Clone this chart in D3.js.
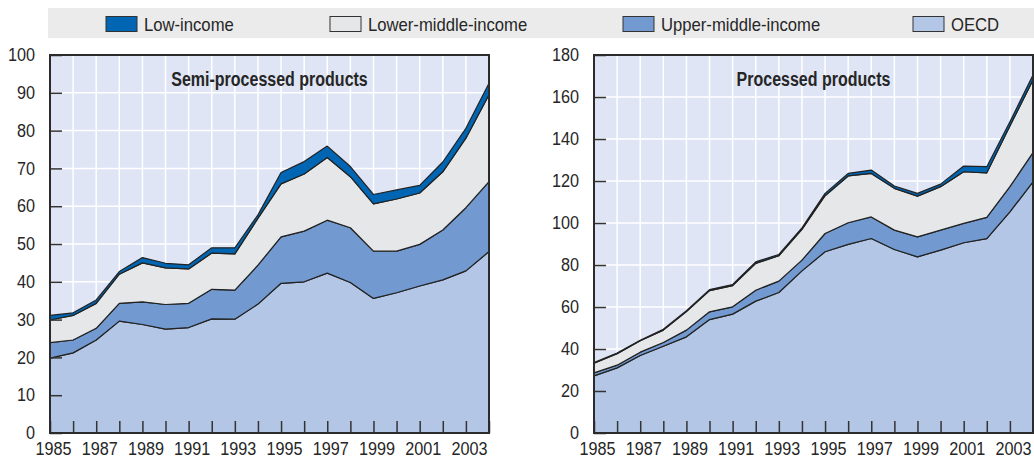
<!DOCTYPE html>
<html>
<head>
<meta charset="utf-8">
<script src="https://cdn.jsdelivr.net/npm/d3@7"></script>
<style>
  body { margin: 0; background: #fff; }
  svg text { font-family: "Liberation Sans", Arial, sans-serif; fill: #262626; }
</style>
</head>
<body>
<div id="chart"></div>
<script>
// data
const years = d3.range(1985, 2005);
const seriesKeys = ["OECD", "Upper-middle-income", "Lower-middle-income", "Low-income"];
const legendKeys = ["Low-income", "Lower-middle-income", "Upper-middle-income", "OECD"];

// semi-processed products
const semiOECD  = [19.8, 21.2, 24.6, 29.6, 28.7, 27.5, 27.9, 30.2, 30.1, 34.1, 39.6, 40.0, 42.3, 39.8, 35.6, 37.1, 38.9, 40.5, 42.9, 48.0];
const semiUpper = [4.1, 3.4, 3.1, 4.7, 6.0, 6.5, 6.4, 7.8, 7.7, 10.3, 12.3, 13.4, 14.0, 14.5, 12.5, 11.0, 11.0, 13.2, 16.7, 18.5];
const semiLower = [6.0, 6.5, 6.6, 7.7, 10.3, 9.7, 9.1, 9.6, 9.6, 12.4, 14.0, 15.1, 16.6, 13.5, 12.5, 13.8, 13.6, 15.4, 18.4, 23.0];
const semiLow   = [1.2, 0.7, 0.9, 0.7, 1.4, 1.2, 1.1, 1.4, 1.6, 0.9, 3.0, 3.3, 3.0, 2.7, 2.5, 2.4, 2.0, 2.6, 2.6, 3.0];

// processed products
const procOECD  = [27.2, 31.0, 36.9, 41.3, 45.8, 54.0, 56.6, 62.8, 66.9, 77.2, 86.3, 89.8, 92.6, 87.4, 83.9, 87.1, 90.6, 92.6, 105.3, 119.6];
const procUpper = [1.4, 1.3, 1.6, 1.8, 3.2, 3.7, 3.5, 5.2, 5.4, 5.1, 8.7, 10.3, 10.3, 9.2, 9.5, 9.5, 9.2, 10.1, 12.0, 13.9];
const procLower = [4.6, 5.5, 5.4, 5.9, 8.8, 10.1, 10.1, 12.8, 12.1, 14.7, 18.0, 22.3, 20.7, 19.9, 19.4, 20.7, 24.6, 21.2, 28.9, 34.6];
const procLow   = [0.3, 0.3, 0.3, 0.4, 0.4, 0.5, 0.5, 0.7, 0.6, 0.7, 1.1, 1.2, 1.6, 1.1, 1.3, 1.2, 2.7, 2.9, 2.0, 2.4];

const semiTicks = d3.range(0, 101, 10);
const procTicks = d3.range(0, 181, 20);

// formatting constants
const width = 1034;
const height = 460;
const labelSize = 18;
const colors = d3.scaleOrdinal()
    .domain(seriesKeys)
    .range(["#b3c6e6", "#7299d0", "#e6e7e9", "#0066b3"]);

const svg = d3.select("#chart")
    .append("svg")
        .attr("width", width)
        .attr("height", height);

// legend band
svg.append("rect")
    .attr("x", 48).attr("y", 8)
    .attr("width", width - 48).attr("height", 30)
    .attr("fill", "#ebebeb");

const legendX = [106, 330, 623, 913];
legendKeys.forEach((key, i) => {
    svg.append("rect")
        .attr("x", legendX[i]).attr("y", 16.5)
        .attr("width", 31).attr("height", 15)
        .attr("fill", colors(key))
        .attr("stroke", "#333")
        .attr("stroke-width", 1);
    svg.append("text")
        .attr("class", "narrow")
        .attr("x", legendX[i] + 38).attr("y", 30.5)
        .attr("font-size", 18.5)
        .text(key);
});

drawPanel({
    left: 50, right: 489, top: 55, bottom: 433,
    yMax: 100, ticks: semiTicks,
    title: "Semi-processed products",
    values: [semiOECD, semiUpper, semiLower, semiLow]
});

drawPanel({
    left: 594, right: 1033, top: 55, bottom: 433,
    yMax: 180, ticks: procTicks,
    title: "Processed products",
    values: [procOECD, procUpper, procLower, procLow]
});

// squeeze texts to look like a condensed face
condense(svg.selectAll("text.narrow"), 0.9);
condense(svg.selectAll("text.title"), 0.8);

/** HELPER FUNCTIONS */

function drawPanel(opt) {
    const rows = years.map((yr, i) => {
        const row = {year: yr};
        seriesKeys.forEach((k, j) => row[k] = opt.values[j][i]);
        return row;
    });

    const x = d3.scaleLinear()
        .domain([years[0], years[years.length - 1]])
        .range([opt.left, opt.right]);

    const y = d3.scaleLinear()
        .domain([0, opt.yMax])
        .range([opt.bottom, opt.top]);

    const g = svg.append("g");

    // background
    g.append("rect")
        .attr("x", opt.left).attr("y", opt.top)
        .attr("width", opt.right - opt.left).attr("height", opt.bottom - opt.top)
        .attr("fill", "#dfe5f4");

    // grid
    g.append("g")
        .selectAll("line")
        .data(years)
        .join("line")
            .attr("x1", d => x(d)).attr("x2", d => x(d))
            .attr("y1", opt.top).attr("y2", opt.bottom)
            .attr("stroke", "#fff").attr("stroke-width", 1.5);

    g.append("g")
        .selectAll("line")
        .data(opt.ticks)
        .join("line")
            .attr("x1", opt.left).attr("x2", opt.right)
            .attr("y1", d => y(d)).attr("y2", d => y(d))
            .attr("stroke", "#fff").attr("stroke-width", 1.5);

    // stacked areas
    const stack = d3.stack().keys(seriesKeys)(rows);
    const area = d3.area()
        .x(d => x(d.data.year))
        .y0(d => y(d[0]))
        .y1(d => y(d[1]));

    g.append("g")
        .selectAll("path")
        .data(stack)
        .join("path")
            .attr("d", area)
            .attr("fill", d => colors(d.key))
            .attr("stroke", "#222")
            .attr("stroke-width", 1.2)
            .attr("stroke-linejoin", "round");

    // title
    g.append("text")
        .attr("class", "title")
        .attr("x", (opt.left + opt.right) / 2)
        .attr("y", opt.top + 31)
        .attr("text-anchor", "middle")
        .attr("font-size", 20)
        .attr("font-weight", "bold")
        .text(opt.title);

    // y axis with inward ticks
    const yAxis = g.append("g")
        .attr("transform", `translate(${opt.left}, 0)`)
        .call(d3.axisLeft(y).tickValues(opt.ticks).tickSizeInner(-12).tickSizeOuter(0).tickPadding(15));
    yAxis.select(".domain").remove();
    yAxis.selectAll("line").attr("stroke", "#333").attr("stroke-width", 1.5);
    yAxis.selectAll("text")
        .attr("class", "narrow")
        .attr("font-size", labelSize).attr("fill", "#262626").attr("font-family", null);

    // x axis with inward ticks, labels every other year
    const xAxis = g.append("g")
        .attr("transform", `translate(0, ${opt.bottom})`)
        .call(d3.axisBottom(x).tickValues(years).tickSizeInner(-12).tickSizeOuter(0).tickPadding(9)
            .tickFormat(d => (d - 1985) % 2 === 0 ? String(d) : ""));
    xAxis.select(".domain").remove();
    xAxis.selectAll("line").attr("stroke", "#333").attr("stroke-width", 1.5);
    xAxis.selectAll("text")
        .attr("class", "narrow")
        .attr("dx", 3)
        .attr("font-size", labelSize).attr("fill", "#262626").attr("font-family", null);

    // frame
    g.append("rect")
        .attr("x", opt.left).attr("y", opt.top)
        .attr("width", opt.right - opt.left).attr("height", opt.bottom - opt.top)
        .attr("fill", "none")
        .attr("stroke", "#2b2b2b")
        .attr("stroke-width", 2);
}

function condense(selection, factor) {
    selection.each(function() {
        if (!this.textContent) return;
        const len = this.getComputedTextLength();
        d3.select(this)
            .attr("textLength", len * factor)
            .attr("lengthAdjust", "spacingAndGlyphs");
    });
}
</script>
</body>
</html>
